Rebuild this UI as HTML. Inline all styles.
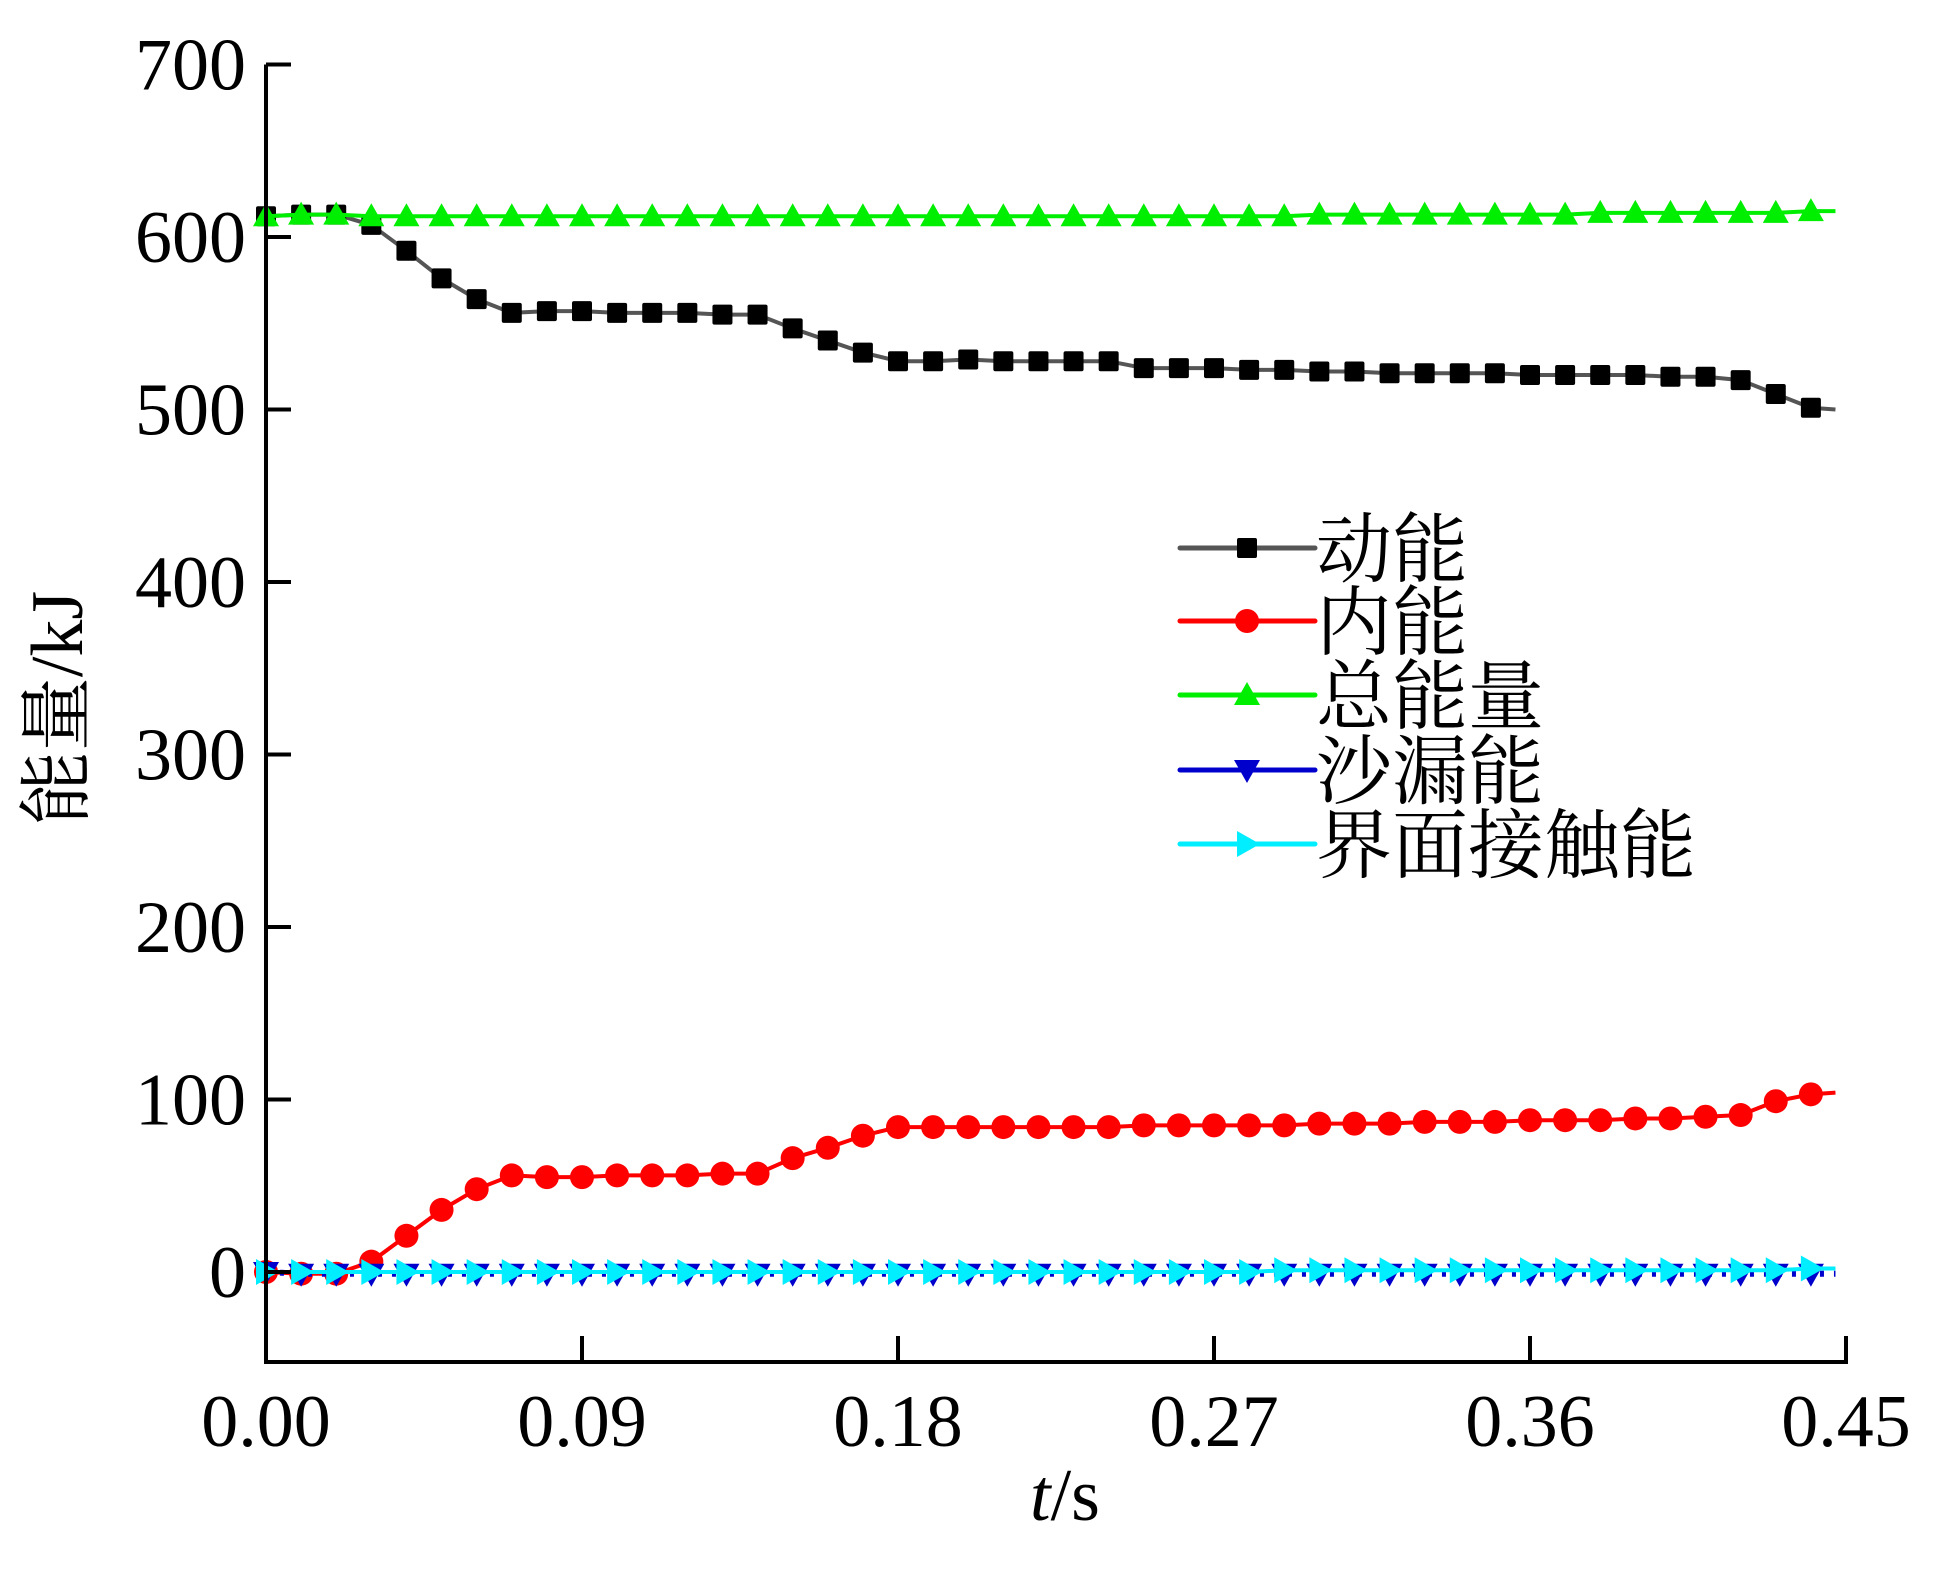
<!DOCTYPE html>
<html><head><meta charset="utf-8"><style>
html,body{margin:0;padding:0;background:#fff;}
svg{display:block;}
text{font-family:"Liberation Serif","Noto Serif CJK SC",serif;fill:#000;}
</style></head><body>
<svg id="chart" width="1954" height="1571" viewBox="0 0 1954 1571" xmlns="http://www.w3.org/2000/svg">
<g id="grid"></g>
<g id="series"></g>
<g id="axes"></g>
<g id="legend"></g>
</svg>
<script>
const times = [0,0.01,0.02,0.03,0.04,0.05,0.06,0.07,0.08,0.09,0.10,0.11,0.12,0.13,0.14,0.15,0.16,0.17,0.18,0.19,0.20,0.21,0.22,0.23,0.24,0.25,0.26,0.27,0.28,0.29,0.30,0.31,0.32,0.33,0.34,0.35,0.36,0.37,0.38,0.39,0.40,0.41,0.42,0.43,0.44];
const endTime = 0.447;
const kinetic = [612,613,613,607,592,576,564,556,557,557,556,556,556,555,555,547,540,533,528,528,529,528,528,528,528,524,524,524,523,523,522,522,521,521,521,521,520,520,520,520,519,519,517,509,501];
const kineticEnd = 500;
const internal = [0,-1,-1,6,21,36,48,56,55,55,56,56,56,57,57,66,72,79,84,84,84,84,84,84,84,85,85,85,85,85,86,86,86,87,87,87,88,88,88,89,89,90,91,99,103];
const internalEnd = 104;
const total = [612,613,613,612,612,612,612,612,612,612,612,612,612,612,612,612,612,612,612,612,612,612,612,612,612,612,612,612,612,612,613,613,613,613,613,613,613,613,614,614,614,614,614,614,615];
const totalEnd = 615;
const sand = [0,-1,-1,-1,-1,-1,-1,-1,-1,-1,-1,-1,-1,-1,-1,-1,-1,-1,-1,-1,-1,-1,-1,-1,-1,-1,-1,-1,-1,-1,-1,-1,-1,-1,-1,-1,-1,-1,-1,-1,-1,-1,-1,-1,-1];
const sandEnd = -1;
const contact = [0,0,0,0,0,0,0,0,0,0,0,0,0,0,0,0,0,0,0,0,0,0,0,0,0,0,0,0,0,1,1,1,1,1,1,1,1,1,1,1,1,1,1,1,2];
const contactEnd = 2;
const xTicks = [0,0.09,0.18,0.27,0.36,0.45];
const xTickLabels = ["0.00","0.09","0.18","0.27","0.36","0.45"];
const yTicks = [0,100,200,300,400,500,600,700];
const yTickLabels = ["0","100","200","300","400","500","600","700"];
const legendLabels = ["动能","内能","总能量","沙漏能","界面接触能"];

const NS="http://www.w3.org/2000/svg";
const X0=266, X1=1846, Y0=1272, YPER=1.725;
const xs=t=>X0+(X1-X0)*t/0.45;
const ys=v=>Y0-v*YPER;
function mk(tag,attrs,parent){const e=document.createElementNS(NS,tag);for(const k in attrs)e.setAttribute(k,attrs[k]);parent.appendChild(e);return e;}
const axes=document.getElementById('axes'), seriesG=document.getElementById('series'), legendG=document.getElementById('legend');

const yAxis=mk('line',{x1:X0,y1:ys(700),x2:X0,y2:1362,stroke:'#000','stroke-width':4},axes);


const xAxis=mk('line',{x1:X0-2,y1:1362,x2:X1+2,y2:1362,stroke:'#000','stroke-width':4},axes);


yTicks.forEach((v,i)=>{
  const t=mk('line',{x1:X0,y1:ys(v),x2:X0+25,y2:ys(v),stroke:'#000','stroke-width':4},axes);
  
  
  const l=mk('text',{x:246,y:ys(v)+25,'font-size':74,'text-anchor':'end'},axes);
  l.textContent=yTickLabels[i];
  
  
});
xTicks.forEach((v,i)=>{
  const t=mk('line',{x1:xs(v),y1:1362,x2:xs(v),y2:1336,stroke:'#000','stroke-width':4},axes);
  
  
  const l=mk('text',{x:xs(v),y:1446,'font-size':74,'text-anchor':'middle'},axes);
  l.textContent=xTickLabels[i];
  
  
});
const xt=mk('text',{x:1065,y:1520,'font-size':74,'text-anchor':'middle'},axes);
xt.innerHTML='<tspan font-style="italic">t</tspan>/s';


const yt=mk('text',{x:0,y:0,'font-size':74,'text-anchor':'middle',transform:'translate(82,708) rotate(-90)'},axes);
yt.textContent='能量/kJ';



function marker(type,x,y,color,parent){
  let e;
  if(type==='square') e=mk('rect',{x:x-10,y:y-10,width:20,height:20,rx:2,fill:color},parent);
  else if(type==='circle') e=mk('circle',{cx:x,cy:y,r:12,fill:color},parent);
  else if(type==='up') e=mk('polygon',{points:`${x},${y-13} ${x-13},${y+10} ${x+13},${y+10}`,fill:color},parent);
  else if(type==='down') e=mk('polygon',{points:`${x},${y+13} ${x-13},${y-10} ${x+13},${y-10}`,fill:color},parent);
  else e=mk('polygon',{points:`${x+13},${y} ${x-10},${y-13} ${x-10},${y+13}`,fill:color},parent);
  return e;
}
const defs=[
 {name:'kinetic',vals:kinetic,end:kineticEnd,color:'#555',mcolor:'#000',m:'square'},
 {name:'internal',vals:internal,end:internalEnd,color:'#f00',mcolor:'#f00',m:'circle'},
 {name:'total',vals:total,end:totalEnd,color:'#0e0',mcolor:'#0e0',m:'up'},
 {name:'sand',vals:sand,end:sandEnd,color:'#00c',mcolor:'#00c',m:'down',dash:'4 10'},
 {name:'contact',vals:contact,end:contactEnd,color:'#0ef',mcolor:'#0ef',m:'right'}
];
defs.forEach((d)=>{
  const g=mk('g',{},seriesG);
  
  
  let pts=d.vals.map((v,i)=>xs(times[i])+','+ys(v));
  pts.push(xs(endTime)+','+ys(d.end));
  const pl=mk('polyline',{points:pts.join(' '),fill:'none',stroke:d.color,'stroke-width':d.dash?6:4,'stroke-linejoin':'round'},g);
  if(d.dash) pl.setAttribute('stroke-dasharray',d.dash);
  
  
  d.vals.forEach((v,i)=>{
    const m=marker(d.m,xs(times[i]),ys(v),d.mcolor,g);
    
    
  });
});
const rowsY=[548,621,695,770,844];
defs.forEach((d,i)=>{
  const g=mk('g',{},legendG);
  
  
  mk('line',{x1:1180,y1:rowsY[i],x2:1315,y2:rowsY[i],stroke:d.color,'stroke-width':5,'stroke-linecap':'round'},g);
  marker(d.m,1247,rowsY[i],d.mcolor,g);
  const t=mk('text',{x:1316,y:rowsY[i]+28,'font-size':76},g);
  t.textContent=legendLabels[i];
});
</script>
</body></html>
